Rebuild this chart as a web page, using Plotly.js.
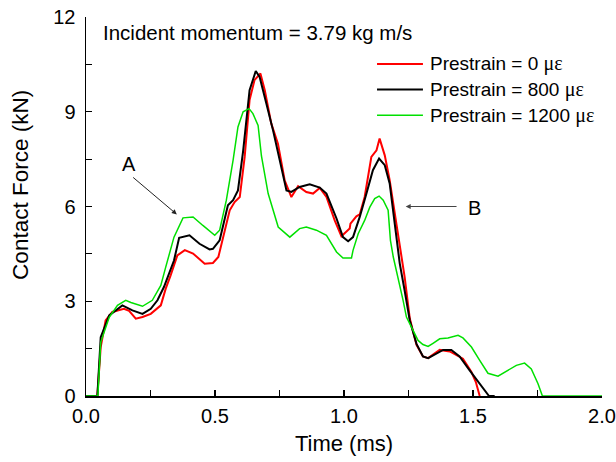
<!DOCTYPE html>
<html>
<head>
<meta charset="utf-8">
<script src="https://cdn.plot.ly/plotly-3.0.1.min.js"></script>
<style>html,body{margin:0;padding:0;background:#fff;}#chart{width:616px;height:462px;}</style>
</head>
<body>
<div id="chart"></div>
<script>
// Prestrain = 0 µε (red)
const t0 = [0,0.044,0.057,0.076,0.102,0.147,0.167,0.193,0.219,0.251,0.29,0.309,0.328,0.354,0.383,0.415,0.46,0.492,0.513,0.538,0.557,0.576,0.596,0.615,0.634,0.653,0.676,0.693,0.718,0.744,0.77,0.796,0.822,0.854,0.88,0.906,0.932,0.964,0.99,1.022,1.025,1.048,1.061,1.08,1.106,1.126,1.138,1.158,1.177,1.203,1.235,1.255,1.281,1.306,1.326,1.371,1.41,1.461,1.494,1.511,1.526];
const f0 = [0,0,1.55,2.39,2.66,2.76,2.7,2.45,2.5,2.6,2.87,3.4,3.82,4.45,4.62,4.51,4.19,4.21,4.4,5.3,5.88,6.14,6.3,7.57,9.37,10.0,10.21,9.68,8.63,7.99,6.83,6.3,6.64,6.46,6.41,6.59,6.3,5.56,5.06,5.3,5.46,5.69,5.75,6.3,7.57,7.78,8.15,7.62,6.83,5.46,3.77,2.45,1.62,1.25,1.2,1.46,1.41,1.18,0.76,0.44,0];
// Prestrain = 800 µε (black)
const t800 = [0,0.044,0.057,0.09,0.141,0.18,0.219,0.251,0.277,0.302,0.341,0.361,0.401,0.44,0.479,0.492,0.518,0.55,0.57,0.589,0.609,0.634,0.658,0.673,0.699,0.725,0.751,0.777,0.796,0.828,0.867,0.906,0.932,0.971,0.996,1.016,1.035,1.061,1.087,1.112,1.136,1.158,1.177,1.196,1.216,1.235,1.255,1.281,1.306,1.326,1.358,1.384,1.416,1.448,1.487,1.526,1.562,1.584];
const f800 = [0,0,1.86,2.55,2.87,2.71,2.6,2.76,3.03,3.45,4.29,5.01,5.09,4.82,4.64,4.66,4.93,6.04,6.2,6.51,7.75,9.68,10.29,10.1,9.26,8.41,7.46,6.51,6.46,6.62,6.7,6.6,6.41,5.62,5.03,4.9,5.03,5.67,6.41,7.15,7.52,7.31,6.73,5.46,4.2,3.34,2.39,1.65,1.25,1.2,1.34,1.46,1.46,1.25,0.81,0.39,0,0];
// Prestrain = 1200 µε (green)
const t1200 = [0,0.046,0.057,0.09,0.122,0.154,0.174,0.219,0.257,0.29,0.309,0.341,0.376,0.415,0.453,0.499,0.518,0.544,0.57,0.589,0.609,0.632,0.647,0.667,0.68,0.706,0.745,0.79,0.828,0.854,0.893,0.932,0.971,0.996,1.029,1.035,1.055,1.08,1.1,1.119,1.136,1.152,1.171,1.18,1.191,1.209,1.229,1.242,1.261,1.287,1.306,1.326,1.345,1.371,1.403,1.442,1.461,1.494,1.526,1.558,1.597,1.636,1.668,1.7,1.726,1.752,1.769,2.0];
const f1200 = [0,0,1.7,2.49,2.87,3.03,2.96,2.84,3.03,3.5,4.08,5.03,5.64,5.67,5.4,5.09,5.25,6.2,7.46,8.52,9.0,9.1,8.94,8.57,7.6,6.41,5.35,5.03,5.3,5.35,5.25,5.09,4.56,4.37,4.37,4.61,5.14,5.56,5.98,6.25,6.33,6.2,5.88,4.93,4.4,3.77,3.03,2.5,2.18,1.76,1.63,1.57,1.67,1.81,1.84,1.92,1.84,1.55,1.13,0.72,0.63,0.81,0.97,1.04,0.86,0.39,0,0];

const prestrainLevels = ['0', '800', '1200'];
const seriesColors = ['#ff0000', '#000000', '#00e000'];
const seriesWidths = [2, 2, 1.5];
const xTicks = [0, 0.5, 1.0, 1.5, 2.0];
const xTickText = ['0.0','0.5','1.0','1.5','2.0'];
const yTicks = [0, 3, 6, 9, 12];

const FONT = '"Liberation Sans", Arial, sans-serif';
const SERIF = "'Liberation Serif','DejaVu Serif',serif";
const mu = '<span style="font-family:' + SERIF + ';font-size:20px">\u03bc\u03b5</span>';
const names = prestrainLevels.map(p => 'Prestrain = ' + p + ' ' + mu);

const xs = [t0, t800, t1200], ys = [f0, f800, f1200];
const traces = xs.map((x, i) => ({
  x: x, y: ys[i], name: names[i], mode: 'lines', showlegend: false,
  line: {color: seriesColors[i], width: seriesWidths[i]}
}));

// manual legend (line samples + labels) in paper coordinates
const legendRowsY = [0.876, 0.809, 0.741];
const shapes = legendRowsY.map((yy, i) => ({
  type: 'line', xref: 'paper', yref: 'paper', x0: 0.564, x1: 0.653, y0: yy, y1: yy,
  line: {color: seriesColors[i], width: seriesWidths[i]}
}));
const legendAnn = legendRowsY.map((yy, i) => ({
  xref: 'paper', yref: 'paper', x: 0.662, y: yy, xanchor: 'left', yanchor: 'middle',
  text: names[i], showarrow: false, font: {family: FONT, size: 19, color: '#000'}
}));

const layout = {
  width: 616, height: 462,
  margin: {l: 86, r: 14, t: 17, b: 66},
  paper_bgcolor: '#fff', plot_bgcolor: '#fff',
  font: {family: FONT, size: 20, color: '#000'},
  showlegend: false,
  shapes: shapes,
  xaxis: {
    range: [0, 2], tickvals: xTicks, ticktext: xTickText, ticks: 'inside', ticklen: 6, tickwidth: 1.2,
    tickcolor: '#000', showline: true, linecolor: '#000', linewidth: 1.5, showgrid: false, zeroline: false,
    minor: {dtick: 0.25, ticks: 'inside', ticklen: 6, tickwidth: 1.2, tickcolor: '#000', showgrid: false},
    tickfont: {family: FONT, size: 20}, ticklabelstandoff: 1,
    title: {text: 'Time (ms)', font: {family: FONT, size: 22}, standoff: 10}
  },
  yaxis: {
    range: [0, 12], tickvals: yTicks, ticks: 'inside', ticklen: 6, tickwidth: 1.2,
    tickcolor: '#000', showline: true, linecolor: '#000', linewidth: 1.5, showgrid: false, zeroline: false,
    minor: {dtick: 1.5, ticks: 'inside', ticklen: 6, tickwidth: 1.2, tickcolor: '#000', showgrid: false},
    tickfont: {family: FONT, size: 20}, ticklabelstandoff: 5
  },
  annotations: [
    {xref: 'paper', yref: 'paper', x: 0.029, y: 0.960, xanchor: 'left', yanchor: 'middle',
     text: 'Incident momentum = 3.79 kg m/s', showarrow: false, font: {family: FONT, size: 20.5}},
    {xref: 'paper', yref: 'paper', x: -0.126, y: 0.557, xanchor: 'center', yanchor: 'middle', textangle: -90,
     text: 'Contact Force (kN)', showarrow: false, font: {family: FONT, size: 22.5}},
    {x: 0.352, y: 5.75, ax: 0.177, ay: 6.96, axref: 'x', ayref: 'y', xref: 'x', yref: 'y',
     text: '', showarrow: true, arrowhead: 2, arrowsize: 1, arrowwidth: 1, arrowcolor: '#222'},
    {x: 0.165, y: 7.34, text: 'A', showarrow: false, font: {family: FONT, size: 20}},
    {x: 1.239, y: 6.0, ax: 1.442, ay: 6.0, axref: 'x', ayref: 'y', xref: 'x', yref: 'y',
     text: '', showarrow: true, arrowhead: 2, arrowsize: 1, arrowwidth: 1, arrowcolor: '#444'},
    {x: 1.505, y: 5.94, text: 'B', showarrow: false, font: {family: FONT, size: 20}}
  ].concat(legendAnn)
};

Plotly.newPlot('chart', traces, layout, {displayModeBar: false, staticPlot: true});
</script>
</body>
</html>
